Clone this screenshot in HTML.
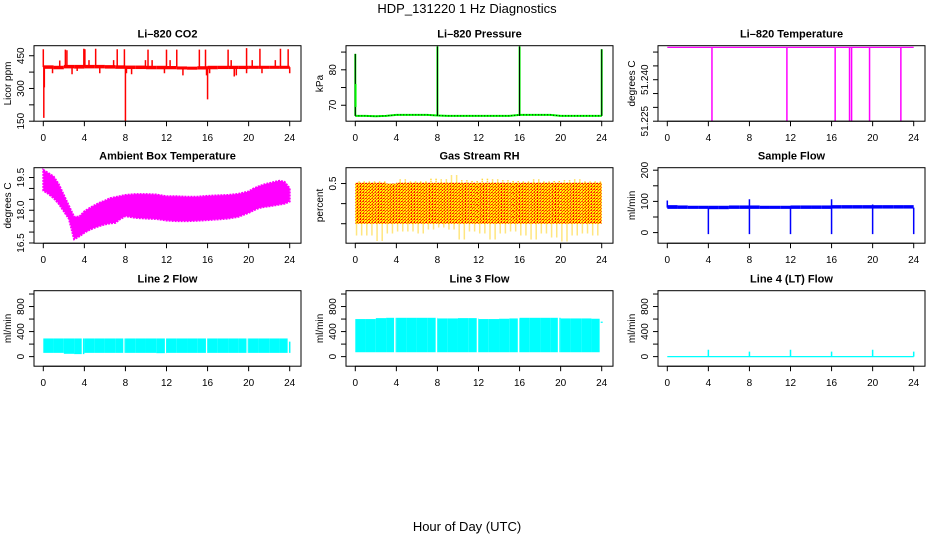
<!DOCTYPE html>
<html><head><meta charset="utf-8"><style>
html,body{margin:0;padding:0;background:#fff}
svg{display:block;font-family:"Liberation Sans",sans-serif}
</style></head><body>
<svg id="chart" width="936" height="540" viewBox="0 0 936 540" xmlns="http://www.w3.org/2000/svg">
<defs>
<pattern id="rhpat" width="3" height="3" patternUnits="userSpaceOnUse">
<rect width="3" height="3" fill="#ffff00"/>
<rect x="0" y="0" width="1" height="1" fill="#ff0000"/>
<rect x="1" y="1" width="1" height="1" fill="#ff0000"/>
<rect x="2" y="0" width="1" height="1" fill="#ff0000"/>
<rect x="0" y="2" width="1" height="1" fill="#ff0000"/>
</pattern>
</defs>
<text x="467" y="13" font-size="13" text-anchor="middle">HDP_131220  1 Hz Diagnostics</text>
<text x="467" y="531" font-size="13" text-anchor="middle">Hour of Day (UTC)</text>
</svg>
<script>
// ---------- data ----------
const xTicks = [0,4,8,12,16,20,24];
const hours = [0,1,2,3,4,5,6,7,8,9,10,11,12,13,14,15,16,17,18,19,20,21,22,23,24];
// CO2
const co2Low  = [390,388,392,391,392,392,391,390,389,389,388,388,388,387,386,387,388,389,389,389,390,390,390,390,388];
const co2High = [406,404,408,408,408,408,407,406,405,405,404,404,403,401,400,402,404,404,404,404,404,404,404,404,402];
const co2SpikeHours = [0.0,1.6,2.15,2.3,3.95,4.05,4.45,5.1,6.85,7.2,7.9,9.95,10.2,10.6,12.0,12.35,13.0,15.2,15.8,18.0,18.3,19.8,20.35,21.1,22.6,23.1,23.85,
  0.05,0.1,0.9,2.8,3.3,5.5,8.0,8.1,8.6,11.8,13.6,15.9,16.0,16.2,18.6,18.8,19.8,21.3,24.0];
const co2SpikeVals = [480,428,478,475,482,480,430,482,430,480,480,430,478,430,478,430,478,478,478,478,430,485,430,482,430,482,480,
  165,305,370,365,380,370,145,370,365,370,360,360,250,370,355,360,370,370,370];
// Pressure
const pressBase = [67.0,67.0,66.9,67.0,67.3,67.3,67.3,67.3,67.1,67.0,67.0,67.0,67.0,67.0,67.0,67.0,67.3,67.3,67.3,67.3,67.0,67.0,67.0,67.0,67.0];
const pressSpikeHours = [0,8,16,24];
const pressSpikeVals = [84.5,86.6,86.6,85.8];
// Li-820 temperature
const tempLevel = 51.2517;
const tempDropHours = [4.35,11.65,16.35,17.75,17.95,19.7,22.75];
const tempDropVals = [51.225,51.225,51.225,51.225,51.225,51.225,51.225];
// Ambient box temperature (half-hour bins)
const ambHours = [0,0.5,1,1.5,2,2.5,3,3.5,4,4.5,5,5.5,6,6.5,7,7.5,8,9,10,11,12,13,14,15,16,17,18,19,20,20.5,21,21.5,22,22.5,23,23.5,24];
const ambHigh = [19.85,19.7,19.55,19.2,18.7,18.2,17.7,17.7,17.95,18.1,18.23,18.35,18.44,18.55,18.6,18.65,18.7,18.74,18.74,18.72,18.64,18.64,18.62,18.62,18.66,18.68,18.7,18.75,18.86,19.0,19.1,19.18,19.24,19.3,19.35,19.3,19.0];
const ambLow  = [18.9,18.75,18.56,18.3,17.95,17.6,16.67,16.8,16.97,17.1,17.2,17.28,17.35,17.4,17.42,17.6,17.73,17.65,17.62,17.6,17.53,17.5,17.5,17.52,17.55,17.58,17.62,17.7,17.88,18.0,18.1,18.15,18.18,18.22,18.26,18.3,18.4];
// Gas stream RH
const rhHours = [0,1,2,3,4,5,6,7,8,9,10,11,12,13,14,15,16,17,18,19,20,21,22,23];
const rhHigh = [0.55,0.55,0.55,0.5,0.6,0.55,0.55,0.62,0.6,0.7,0.58,0.56,0.62,0.6,0.58,0.56,0.55,0.6,0.55,0.56,0.58,0.6,0.55,0.55];
const rhLow  = [-0.8,-0.8,-0.92,-0.75,-0.7,-0.7,-0.75,-0.65,-0.6,-0.65,-0.9,-0.7,-0.75,-0.9,-0.75,-0.7,-0.8,-0.9,-0.75,-0.85,-0.95,-0.8,-0.75,-0.8];
// Sample flow
const sfLow  = [76,76,76,76,75,75,76,76,76,76,76,76,76,76,76,76,77,77,77,77,77,77,77,77,77];
const sfHigh = [88,87,86,86,86,86,87,87,87,86,86,86,87,87,87,87,88,88,88,88,88,88,88,88,88];
const sfSpikeHours = [4,8,12,16,20,24,0,8,16,20];
const sfSpikeVals = [-5,-5,-5,-5,-5,-5,103,107,107,90];
// Line flows
const l2Low  = [60,60,45,40,60,60,60,60,60,60,60,55,60,60,60,60,60,60,60,60,60,60,60,60];
const l2High = [290,290,290,290,290,290,290,290,290,290,290,290,290,290,290,290,290,290,290,290,290,290,290,290];
const l2GapHours = [3.8,7.85,11.9,15.9,19.85];
const l3Low  = [70,70,70,70,70,70,70,70,70,70,70,70,70,70,70,70,70,70,70,70,70,70,70,70];
const l3High = [600,600,615,620,620,620,620,620,610,610,615,615,600,600,605,610,620,620,620,620,610,610,610,605];
const l3GapHours = [3.85,7.9,11.9,15.9,19.8];
const l4SpikeHours = [4,8,12,16,20,24];
const l4SpikeVals = [110,80,110,80,110,80];

// ---------- layout ----------
const svg = document.getElementById('chart');
const NS = 'http://www.w3.org/2000/svg';
const rowY = [45.7,167.7,290.7];
const BW = 267, BH = 75.5;
function mk(tag, attrs, parent){
  const e = document.createElementNS(NS, tag);
  for (const k in attrs) e.setAttribute(k, attrs[k]);
  (parent||svg).appendChild(e);
  return e;
}
function makePanel(col,row,title,ylab,dom,ticks,labels,name){
  const bx = 34 + col*312, by = rowY[row];
  const g = mk('g',{});
  
  
  const xs = h => bx + 9.3 + h/24*246.4;
  const ys = v => by + BH - (v-dom[0])/(dom[1]-dom[0])*BH;
  const clip = mk('clipPath',{id:'clip-'+name}, g);
  mk('rect',{x:bx,y:by,width:BW,height:BH}, clip);
  const plot = mk('g',{'clip-path':'url(#clip-'+name+')'}, g);
  
  
  const t = mk('text',{x:bx+BW/2,y:by-8,'font-size':11,'font-weight':'bold','text-anchor':'middle'}, g);
  t.textContent = title;
  
  
  const xa = mk('g',{stroke:'#000','stroke-width':1}, g);
  
  
  mk('line',{x1:xs(0),x2:xs(24),y1:by+BH,y2:by+BH}, xa);
  xTicks.forEach(v=>{
    mk('line',{x1:xs(v),x2:xs(v),y1:by+BH,y2:by+BH+5}, xa);
    const tl = mk('text',{x:xs(v),y:by+BH+20,'font-size':10,'text-anchor':'middle',stroke:'none'}, xa);
    tl.textContent = v;
    
    
  });
  const ya = mk('g',{stroke:'#000','stroke-width':1}, g);
  
  
  mk('line',{x1:bx,x2:bx,y1:ys(ticks[0]),y2:ys(ticks[ticks.length-1])}, ya);
  ticks.forEach(v=>mk('line',{x1:bx-5,x2:bx,y1:ys(v),y2:ys(v)}, ya));
  labels.forEach(v=>{
    const tl = mk('text',{x:bx-10,y:ys(v),'font-size':10,'text-anchor':'middle',stroke:'none',transform:'rotate(-90 '+(bx-10)+' '+ys(v)+')'}, ya);
    tl.textContent = v;
    
    
  });
  const yt = mk('text',{x:bx-23,y:by+BH/2,'font-size':10,'text-anchor':'middle',transform:'rotate(-90 '+(bx-23)+' '+(by+BH/2)+')'}, g);
  yt.textContent = ylab;
  
  
  const box = mk('rect',{x:bx,y:by,width:BW,height:BH,fill:'none',stroke:'#000','stroke-width':1}, g);
  
  
  return {plot,xs,ys};
}
function bandRects(p, hs, lo, hi, color, nm){
  for (let i=0;i<lo.length;i++){
    const h0 = hs[i], h1 = (i+1<hs.length)? hs[i+1] : hs[i]+ (hs[1]-hs[0]);
    const r = mk('rect',{x:p.xs(h0),y:p.ys(hi[i]),width:Math.max(0.5,p.xs(h1)-p.xs(h0)),height:Math.max(1,p.ys(lo[i])-p.ys(hi[i])),fill:color}, p.plot);
    
    
  }
}
function spikes(p, hs, vs, base, color, w, nm){
  hs.forEach((h,i)=>{
    const l = mk('line',{x1:p.xs(h),x2:p.xs(h),y1:p.ys(base),y2:p.ys(vs[i]),stroke:color,'stroke-width':w}, p.plot);
    
    
  });
}

// CO2
let p = makePanel(0,0,'Li\u2013820 CO2','Licor ppm',[150,496],[150,225,300,375,450],[150,300,450],'co2');
bandRects(p, hours.slice(0,24), co2Low.slice(0,24), co2High.slice(0,24), '#ff0000','co2-band');
spikes(p, co2SpikeHours, co2SpikeVals, 398, '#ff0000', 1.5, 'co2-spike');

// Pressure
p = makePanel(1,0,'Li\u2013820 Pressure','kPa',[65.5,86.8],[70,75,80,85],[70,80],'pressure');
let pts = hours.map((h,i)=>p.xs(h)+','+p.ys(pressBase[i])).join(' ');
let pl = mk('polyline',{points:pts,fill:'none',stroke:'#00ff00','stroke-width':2}, p.plot);


pl = mk('polyline',{points:pts,fill:'none',stroke:'#000','stroke-width':1,'stroke-dasharray':'1,2'}, p.plot);


spikes(p, pressSpikeHours, pressSpikeVals, 67, '#00ff00', 2, 'pressure-spike-green');
spikes(p, pressSpikeHours, pressSpikeVals, 67, '#000', 1, 'pressure-spike');
const pl2 = mk('line',{x1:p.xs(0.05),x2:p.xs(0.05),y1:p.ys(69.5),y2:p.ys(76),stroke:'#00ff00','stroke-width':1.5},p.plot);



// Li-820 temperature
p = makePanel(2,0,'Li\u2013820 Temperature','degrees C',[51.225,51.2523],[51.225,51.230,51.235,51.240,51.245,51.250],['51.225','51.240'],'li820-temp');
pl = mk('line',{x1:p.xs(0),x2:p.xs(24),y1:p.ys(tempLevel),y2:p.ys(tempLevel),stroke:'#ff00ff','stroke-width':1.2}, p.plot);


spikes(p, tempDropHours, tempDropVals.map(v=>v-0.001), tempLevel, '#ff00ff', 1.5, 'li820-temp-drop');

// Ambient
p = makePanel(0,1,'Ambient Box Temperature','degrees C',[16.49,19.95],[16.5,17,17.5,18,18.5,19,19.5],['16.5','18.0','19.5'],'ambient-temp');
let poly = ambHours.map((h,i)=>p.xs(h)+','+p.ys(ambHigh[i])).concat(ambHours.slice().reverse().map((h,j)=>p.xs(h)+','+p.ys(ambLow[ambHours.length-1-j]))).join(' ');
pl = mk('polygon',{points:poly,fill:'#ff00ff',stroke:'#ff00ff','stroke-width':2,'stroke-dasharray':'2,1'}, p.plot);



// RH
p = makePanel(1,1,'Gas Stream RH','percent',[-0.985,0.894],[-0.5,0,0.5],['\u22120.5','0.5'],'gas-rh');
bandRects(p, rhHours, rhLow.map(v=>Math.max(v,-0.5)), rhHigh.map(v=>Math.min(v,0.52)), 'url(#rhpat)','gas-rh-band');
rhHours.forEach((h,i)=>{
  for (let k=0;k<4;k++){
    const hh = h + 0.12 + k*0.25;
    const l = mk('line',{x1:p.xs(hh),x2:p.xs(hh),y1:p.ys(k%2?rhHigh[i]:0.45),y2:p.ys(k%2?-0.45:rhLow[i]),stroke:'#ffcc00','stroke-width':1.5,'stroke-dasharray':'1,1'}, p.plot);
    
    
  }
});

// Sample flow
p = makePanel(2,1,'Sample Flow','ml/min',[-34,208],[0,50,100,150,200],[0,100,200],'sample-flow');
bandRects(p, hours.slice(0,24), sfLow.slice(0,24), sfHigh.slice(0,24), '#0000ff','sample-flow-band');
spikes(p, sfSpikeHours, sfSpikeVals, 80, '#0000ff', 1.5, 'sample-flow-spike');

// Line 2
p = makePanel(0,2,'Line 2 Flow','ml/min',[-153,1053],[0,200,400,600,800,1000],[0,400,800],'line2-flow');
bandRects(p, hours.slice(0,24), l2Low, l2High, '#00ffff','line2-flow-band');
l2GapHours.forEach(h=>{const l=mk('line',{x1:p.xs(h),x2:p.xs(h),y1:p.ys(1000),y2:p.ys(-100),stroke:'#fff','stroke-width':1.2},p.plot);
  
  });
mk('rect',{x:p.xs(23.8),y:p.ys(1000),width:p.xs(24.5)-p.xs(23.8),height:80,fill:'#fff'},p.plot);
spikes(p,[24],[240],60,'#00ffff',1.5,'line2-flow-end');

// Line 3
p = makePanel(1,2,'Line 3 Flow','ml/min',[-153,1053],[0,200,400,600,800,1000],[0,400,800],'line3-flow');
bandRects(p, hours.slice(0,24), l3Low, l3High, '#00ffff','line3-flow-band');
l3GapHours.forEach(h=>{const l=mk('line',{x1:p.xs(h),x2:p.xs(h),y1:p.ys(1000),y2:p.ys(-100),stroke:'#fff','stroke-width':1.5},p.plot);
  
  });
mk('rect',{x:p.xs(23.8),y:p.ys(1000),width:p.xs(24.5)-p.xs(23.8),height:80,fill:'#fff'},p.plot);
spikes(p,[24],[560],540,'#00ffff',2,'line3-flow-end');

// Line 4
p = makePanel(2,2,'Line 4 (LT) Flow','ml/min',[-153,1053],[0,200,400,600,800,1000],[0,400,800],'line4-flow');
pl = mk('line',{x1:p.xs(0),x2:p.xs(24),y1:p.ys(0),y2:p.ys(0),stroke:'#00ffff','stroke-width':1.2}, p.plot);


spikes(p, l4SpikeHours, l4SpikeVals, 0, '#00ffff', 1.5, 'line4-flow-spike');
</script>
</body></html>
